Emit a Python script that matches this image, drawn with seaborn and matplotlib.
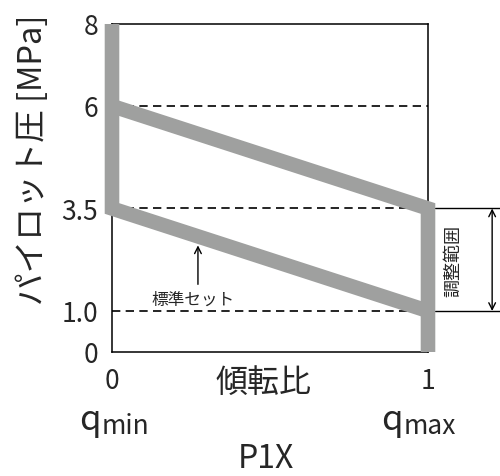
import numpy as np
import pandas as pd
import matplotlib
matplotlib.use("Agg")
import matplotlib.pyplot as plt
import seaborn as sns

# chart values
ytick_vals = [0, 1.0, 3.5, 6, 8]
ytick_labels = ["0", "1.0", "3.5", "6", "8"]
xtick_vals = [0, 1]
xtick_labels = ["0", "1"]

# thick grey characteristic lines (two polylines)
upper_x = [0, 1, 1]
upper_y = [6, 3.5, 0]
lower_x = [0, 0, 1]
lower_y = [8, 3.5, 1.0]

guide_levels = [6, 3.5, 1.0]
adjust_range = [1.0, 3.5]

sns.set_theme(style="white")
plt.rcParams["font.family"] = ["Noto Sans CJK JP", "DejaVu Sans"]

fig = plt.figure(figsize=(5.0, 4.77), dpi=100)
ax = fig.add_axes([0.224, 0.26, 0.632, 0.6876])

grey = "#9fa09f"
df = pd.DataFrame({
    "x": upper_x + lower_x,
    "y": upper_y + lower_y,
    "seg": ["upper"] * len(upper_x) + ["lower"] * len(lower_x),
})
sns.lineplot(data=df, x="x", y="y", units="seg", estimator=None, sort=False,
             color=grey, linewidth=10.5, solid_joinstyle="miter",
             solid_capstyle="butt", clip_on=False, zorder=3, ax=ax)

# dashed guide lines
ax.hlines(guide_levels, 0, 1, colors="black", linestyles=(0, (5, 3.2)),
          linewidth=1.2, zorder=2)

ax.set_xlim(0, 1)
ax.set_ylim(0, 8)
ax.set_xticks(xtick_vals)
ax.set_xticklabels(xtick_labels)
ax.set_yticks(ytick_vals)
ax.set_yticklabels(ytick_labels)
ax.tick_params(axis="y", length=0, pad=10, labelsize=19)
ax.tick_params(axis="x", length=0, pad=11, labelsize=19)
ax.set_xlabel("")
ax.set_ylabel("")
for s in ax.spines.values():
    s.set_color("black")
    s.set_linewidth(1.1)
    s.set_visible(True)

# adjustment range dimension on the right
for lvl in adjust_range:
    ax.plot([1.022, 1.23], [lvl, lvl], color="black", lw=1.0, clip_on=False)
ax.annotate("", xy=(1.203, adjust_range[1]), xytext=(1.203, adjust_range[0]),
            arrowprops=dict(arrowstyle="<->", color="black", lw=1.0,
                            shrinkA=0, shrinkB=0),
            annotation_clip=False)
ax.text(1.079, np.mean(adjust_range), "調整範囲", rotation=90, fontsize=13,
        ha="center", va="center")

# standard setting label
ax.annotate("", xy=(0.272, 2.6), xytext=(0.272, 1.65),
            arrowprops=dict(arrowstyle="->", color="black", lw=1.0,
                            shrinkA=0, shrinkB=0))
ax.text(0.256, 1.29, "標準セット", fontsize=12, ha="center", va="center")

# axis titles
ax.text(-0.25, 0.588, "パイロット圧 [MPa]", rotation=90, fontsize=23.5,
        ha="center", va="center", transform=ax.transAxes)
ax.text(0.478, -0.091, "傾転比", fontsize=23, ha="center", va="center",
        transform=ax.transAxes)
ax.text(-0.036, -0.235, "q", fontsize=25, ha="right", va="baseline",
        transform=ax.transAxes)
ax.text(-0.032, -0.247, "min", fontsize=19, ha="left", va="baseline",
        transform=ax.transAxes)
ax.text(0.92, -0.235, "q", fontsize=25, ha="right", va="baseline",
        transform=ax.transAxes)
ax.text(0.924, -0.247, "max", fontsize=19, ha="left", va="baseline",
        transform=ax.transAxes)
fig.text(0.532, 0.004, "P1X", fontsize=23, ha="center", va="bottom")

fig.savefig("out.png", dpi=100)
